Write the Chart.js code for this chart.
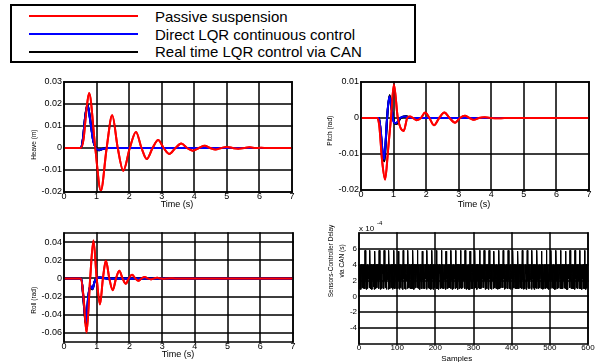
<!DOCTYPE html>
<html>
<head>
<meta charset="utf-8">
<script src="https://cdn.jsdelivr.net/npm/chart.js@4.4.1/dist/chart.umd.min.js"></script>
<style>
  body { margin: 0; background: #fff; width: 615px; height: 362px; overflow: hidden; position: relative;
         font-family: "Liberation Sans", Arial, sans-serif; }
  canvas { position: absolute; }
  #legend { position: absolute; left: 10px; top: 4px; width: 402px; height: 55px; border: 2px solid #000; }
  .swatch { position: absolute; left: 17px; width: 109px; height: 2px; }
  .lbl { position: absolute; left: 143px; font-size: 15px; line-height: 18px; white-space: nowrap; color: #000; }
</style>
</head>
<body>
<div id="legend"></div>
<canvas id="heave" width="310" height="145" style="left:0;top:70px"></canvas>
<canvas id="pitch" width="305" height="145" style="left:310px;top:70px"></canvas>
<canvas id="roll" width="310" height="147" style="left:0;top:215px"></canvas>
<canvas id="delay" width="305" height="147" style="left:310px;top:215px"></canvas>
<script>
// legend
const seriesNames = ['Passive suspension', 'Direct LQR continuous control', 'Real time LQR control via CAN'];
const seriesColors = ['#ff0000', '#0000ff', '#000000'];

// tick values
const timeTicks = [0, 1, 2, 3, 4, 5, 6, 7];
const heaveTicks = [-0.02, -0.01, 0, 0.01, 0.02, 0.03];
const pitchTicks = [-0.02, -0.01, 0, 0.01];
const rollTicks = [-0.06, -0.04, -0.02, 0, 0.02, 0.04];
const sampleTicks = [0, 100, 200, 300, 400, 500, 600];
const delayTicks = [-4, -2, 0, 2, 4, 6];

// heave (m)
const heavePassiveT = [0, 0.52, 0.6, 0.68, 0.77, 0.96, 1.13, 1.31, 1.48, 1.65, 1.82, 2.02, 2.21, 2.38, 2.54, 2.72, 2.89, 3.06, 3.23, 3.42, 3.6, 3.78, 3.95, 4.14, 4.32, 4.49, 4.65, 4.83, 5.0, 5.18, 5.35, 5.53, 5.7, 5.88, 6.05, 6.25, 7];
const heavePassive = [0, 0, 0.004, 0.016, 0.025, 0, -0.0194, 0, 0.0149, 0, -0.0103, 0, 0.0073, 0, -0.005, 0, 0.0036, 0, -0.0027, 0, 0.002, 0, -0.0012, 0, 0.001, 0, -0.0007, 0, 0.0005, 0, -0.0003, 0, 0.0003, 0, 0.0001, 0, 0];
const heaveLqrT = [0, 0.52, 0.58, 0.65, 0.72, 0.8, 0.9, 0.98, 1.08, 1.2, 1.35, 7];
const heaveDirect = [0, 0, 0.004, 0.014, 0.0195, 0.013, 0.003, 0, -0.0009, -0.0003, 0, 0];
const heaveCan = [0, 0, 0.004, 0.0142, 0.0198, 0.0135, 0.0032, 0, -0.001, -0.0003, 0, 0];

// pitch (rad)
const pitchPassiveT = [0, 0.5, 0.56, 0.65, 0.74, 0.83, 0.92, 1.01, 1.13, 1.31, 1.42, 1.5, 1.6, 1.71, 1.84, 1.97, 2.1, 2.24, 2.4, 2.56, 2.72, 2.89, 3.04, 3.19, 3.33, 3.46, 3.62, 3.8, 4.0, 4.2, 4.4, 7];
const pitchPassive = [0, 0, -0.002, -0.012, -0.0171, -0.009, 0, 0.0093, 0, -0.0036, 0, 0.0004, 0, -0.0006, 0, 0.0015, 0, -0.002, 0, 0.0015, 0, -0.0013, 0, 0.0006, 0, -0.0005, 0, 0.0002, 0, -0.0001, 0, 0];
const pitchDirectT = [0, 0.55, 0.6, 0.66, 0.71, 0.76, 0.8, 0.87, 0.95, 1.0, 1.07, 1.2, 1.35, 1.5, 7];
const pitchDirect = [0, 0, -0.003, -0.009, -0.0115, -0.006, 0, 0.006, 0.002, -0.001, -0.0015, 0, 0.0004, 0, 0];
const pitchCanT = [0, 0.55, 0.6, 0.67, 0.72, 0.77, 0.81, 0.88, 0.96, 1.02, 1.08, 1.22, 1.38, 1.55, 7];
const pitchCan = [0, 0, -0.0035, -0.0105, -0.012, -0.005, 0.001, 0.0063, 0.0015, -0.0012, -0.0017, 0, 0.0005, 0, 0];

// roll (rad)
const rollPassiveT = [0, 0.52, 0.6, 0.69, 0.8, 0.9, 1.0, 1.1, 1.19, 1.28, 1.385, 1.49, 1.59, 1.69, 1.79, 1.89, 1.98, 2.08, 2.18, 2.27, 2.37, 2.47, 2.56, 2.65, 2.75, 2.85, 2.95, 3.05, 3.15, 3.25, 3.4, 7];
const rollPassive = [0, 0, -0.022, -0.0597, 0, 0.0418, 0, -0.0286, 0, 0.0196, 0, -0.013, 0, 0.0085, 0, -0.006, 0, 0.004, 0, -0.0025, 0, 0.0015, 0, -0.001, 0, 0.0006, 0, -0.0004, 0, 0.0002, 0, 0];
const rollLqrT = [0, 0.53, 0.6, 0.67, 0.74, 0.8, 0.87, 0.93, 0.99, 1.1, 1.3, 7];
const rollDirect = [0, 0, -0.024, -0.049, -0.02, -0.008, -0.0115, -0.004, 0, 0.001, 0, 0];
const rollCan = [0, 0, -0.026, -0.051, -0.021, -0.009, -0.012, -0.004, 0, 0.001, 0, 0];

// sensors-controller delay via CAN, in units of 1e-4 s, one value per sample
const delayE4 = [
  1.0,4.0,2.2,3.9,0.9,4.0,2.8,1.1,4.0,2.0,3.9,1.0,4.0,
  4.0,1.0,5.8,2.1,4.0,0.9,3.9,2.8,1.0,4.0,2.2,3.0,
  3.9,1.1,5.8,2.0,4.0,1.0,4.0,2.9,0.9,3.9,2.1,4.0,1.2,
  4.0,0.9,5.7,2.2,3.9,1.0,4.0,3.0,1.1,4.0,2.0,2.8,
  4.0,1.0,5.8,2.1,3.9,0.9,4.0,2.2,1.0,4.0,2.9,3.9,1.1,
  3.9,1.0,5.8,2.0,4.0,1.1,3.9,2.9,0.9,4.0,2.1,3.1,
  4.0,0.9,5.8,2.2,4.0,1.0,3.9,2.8,1.1,4.0,2.0,4.0,0.9,
  4.0,1.1,5.8,2.1,3.9,1.0,4.0,2.9,1.0,3.9,2.2,3.0,
  3.9,1.0,5.7,2.0,4.0,0.9,4.0,2.8,1.1,4.0,2.1,3.9,1.0,
  4.0,0.9,5.8,2.2,4.0,1.0,3.9,3.0,0.9,4.0,2.0,2.9,
  4.0,1.0,5.8,2.1,3.9,1.1,4.0,2.2,1.0,3.9,2.8,4.0,1.0,
  3.9,1.0,5.8,2.0,4.0,0.9,4.0,2.9,1.1,4.0,2.1,3.0,
  4.0,1.1,5.8,2.2,3.9,1.0,4.0,2.8,0.9,4.0,2.0,3.9,1.1,
  4.0,1.0,5.7,2.1,4.0,1.0,3.9,3.0,1.0,4.0,2.2,2.8,
  3.9,0.9,5.8,2.0,4.0,1.1,4.0,2.9,1.0,3.9,2.1,4.0,0.9,
  4.0,1.0,5.8,2.2,3.9,0.9,4.0,2.8,1.1,4.0,2.0,3.1,
  4.0,1.0,5.8,2.1,4.0,1.0,3.9,2.2,0.9,4.0,2.9,3.9,1.0,
  3.9,1.1,5.8,2.0,4.0,1.0,4.0,2.9,1.0,3.9,2.1,3.0,
  4.0,0.9,5.7,2.2,3.9,1.0,4.0,2.8,1.1,4.0,2.0,4.0,1.1,
  4.0,1.0,5.8,2.1,4.0,0.9,3.9,3.0,1.0,4.0,2.2,2.9,
  3.9,1.0,5.8,2.0,4.0,1.1,4.0,2.8,0.9,4.0,2.1,3.9,1.0,
  4.0,1.1,5.8,2.2,3.9,1.0,4.0,2.9,1.1,4.0,2.0,3.0,
  4.0,1.0,5.8,2.1,4.0,0.9,3.9,2.2,1.0,3.9,2.8,4.0,0.9,
  3.9,0.9,5.7,2.0,4.0,1.0,4.0,3.0,1.0,4.0,2.1,2.8,
  4.0,1.0,5.8,2.2,3.9,1.1,4.0,2.9,0.9,4.0,2.0,3.9,1.1,
  4.0,1.0,5.8,2.1,4.0,1.0,3.9,2.8,1.1,3.9,2.2,3.1,
  3.9,1.1,5.8,2.0,4.0,0.9,4.0,2.9,1.0,4.0,2.1,4.0,1.0,
  4.0,0.9,5.8,2.2,3.9,1.0,4.0,3.0,0.9,4.0,2.0,2.9,
  4.0,1.0,5.7,2.1,4.0,1.1,3.9,2.2,1.0,4.0,2.8,3.9,0.9,
  3.9,1.0,5.8,2.0,4.0,1.0,4.0,2.9,1.1,4.0,2.1,3.0,
  4.0,1.1,5.8,2.2,3.9,0.9,4.0,2.8,1.0,3.9,2.0,4.0,1.1,
  4.0,1.0,5.8,2.1,4.0,1.0,3.9,3.0,0.9,4.0,2.2,2.8,
  3.9,0.9,5.8,2.0,4.0,1.1,4.0,2.9,1.0,4.0,2.1,3.9,1.0,
  4.0,1.0,5.7,2.2,3.9,1.0,4.0,2.8,1.1,4.0,2.0,3.1,
  4.0,1.0,5.8,2.1,4.0,0.9,3.9,2.2,1.0,3.9,2.9,4.0,0.9,
  3.9,1.1,5.8,2.0,4.0,1.0,4.0,2.9,1.0,4.0,2.1,3.0,
  4.0,0.9,5.8,2.2,3.9,1.1,4.0,2.8,0.9,4.0,2.0,3.9,1.1,
  4.0,1.0,5.8,2.1,4.0,1.0,3.9,3.0,1.1,4.0,2.2,2.9,
  3.9,1.0,5.7,2.0,4.0,0.9,4.0,2.9,1.0,3.9,2.1,4.0,1.0,
  4.0,1.1,5.8,2.2,3.9,1.0,4.0,2.8,0.9,4.0,2.0,3.0,
  4.0,1.0,5.8,2.1,4.0,1.1,3.9,2.2,1.0,4.0,2.8,3.9,0.9,
  3.9,0.9,5.8,2.0,4.0,1.0,4.0,2.9,1.1,4.0,2.1,3.1,
  4.0,1.0,5.8,2.2,3.9,1.0,4.0,2.8,1.0,3.9,2.0,4.0,1.1,
  4.0,1.0,5.7,2.1,4.0,0.9,3.9,3.0,0.9,4.0,2.2,2.8,
  3.9,1.1,5.8,2.0,4.0,1.0,4.0,2.9,1.0,4.0,2.1,3.9,1.0,
  4.0,0.9,5.8,2.2,3.9,1.1,4.0,2.8,1.0,4.0,2.0,3.0,
  4.0,1.0,5.8,2.1,4.0,1.0,3.9,2.9,0.9,3.9,2.2,4.0,1.0,
  3.9,1.0,5.8,2.0,4.0,0.9,4.0,2.8,1.1,4.0,2.1,3.9
];

const FONT = '"Liberation Sans", Arial, sans-serif';
Chart.defaults.font.family = FONT;
Chart.defaults.color = '#000';

// legend box (html)
const legend = document.getElementById('legend');
seriesNames.forEach((name, i) => {
  const sw = document.createElement('div');
  sw.className = 'swatch';
  sw.style.top = (9 + i * 17.75) + 'px';
  sw.style.background = seriesColors[i];
  legend.appendChild(sw);
  const lb = document.createElement('div');
  lb.className = 'lbl';
  lb.style.top = (2 + i * 17.5) + 'px';
  lb.textContent = name;
  legend.appendChild(lb);
});

// tick arrays per chart for the grid
const gridTicks = {};

// painted at the very end: grid, the data lines again over it, then box and labels
const axesFrame = {
  id: 'axesFrame',
  afterDraw(chart, args, o) {
    const {ctx, chartArea: a, scales} = chart;
    const g = gridTicks[chart.canvas.id];
    const top = Math.round(a.top), bottom = Math.round(a.bottom);
    const left = Math.round(a.left), right = Math.round(a.right);
    ctx.save();
    ctx.strokeStyle = '#000';
    ctx.lineWidth = 1.5;
    g.x.forEach(v => {
      const px = Math.round(scales.x.getPixelForValue(v));
      ctx.strokeRect(px, top, 0.01, bottom - top);
    });
    g.y.forEach(v => {
      const py = Math.round(scales.y.getPixelForValue(v));
      ctx.strokeRect(left, py, right - left, 0.01);
    });
    ctx.restore();

    // data lines back over the grid (red last, so it stays on top)
    const metas = chart.getSortedVisibleDatasetMetas();
    ctx.save();
    ctx.beginPath();
    ctx.rect(a.left, a.top, a.width, a.height);
    ctx.clip();
    for (let i = metas.length - 1; i >= 0; i--) {
      if (metas[i].dataset) metas[i].dataset.draw(ctx, a);
    }
    ctx.restore();

    ctx.save();
    ctx.strokeStyle = '#000';
    ctx.lineWidth = 1.5;
    ctx.strokeRect(left, top, right - left, bottom - top);
    ctx.fillStyle = '#000';
    ctx.textAlign = 'center';
    ctx.textBaseline = 'middle';
    ctx.font = o.xSize + 'px ' + FONT;
    ctx.fillText(o.xTitle, o.xAt[0], o.xAt[1]);
    ctx.font = o.ySize + 'px ' + FONT;
    o.yTitle.forEach((txt, i) => {
      ctx.save();
      ctx.translate(o.yAt[0] + i * o.yGap, o.yAt[1]);
      ctx.rotate(-Math.PI / 2);
      ctx.fillText(txt, 0, 0);
      ctx.restore();
    });
    if (o.exponent) {
      ctx.textAlign = 'left';
      ctx.textBaseline = 'alphabetic';
      ctx.font = '8px ' + FONT;
      ctx.fillText('x 10', a.left, a.top - 2);
      ctx.font = '6px ' + FONT;
      ctx.fillText(o.exponent, a.left + 18, a.top - 8);
    }
    ctx.restore();
  }
};

const fmt2 = v => String(+v.toFixed(2));
const fmt0 = v => String(v);

function axis(min, max, ticks, fmt, size, pad, fit) {
  return {
    type: 'linear', min: min, max: max,
    afterBuildTicks: s => { s.ticks = ticks.map(v => ({value: v})); },
    afterFit: fit,
    grid: {display: false, drawTicks: false},
    border: {display: false},
    ticks: {autoSkip: false, maxRotation: 0, padding: pad, font: {size: size}, callback: fmt}
  };
}

function series(xs, ys, color, width, order) {
  return {
    data: xs.map((x, i) => ({x: x, y: ys[i]})),
    borderColor: color, borderWidth: width, order: order,
    pointRadius: 0, showLine: true, fill: false,
    cubicInterpolationMode: 'monotone'
  };
}

function plot(id, area, x, y, datasets, frame) {
  const cv = document.getElementById(id);
  gridTicks[id] = {x: x.ticks.slice(), y: y.ticks.slice()};
  return new Chart(cv, {
    type: 'scatter',
    data: {datasets: datasets},
    options: {
      responsive: false, animation: false, devicePixelRatio: 1,
      layout: {padding: {left: 0, top: area[1], right: cv.width - area[2], bottom: 0}},
      plugins: {legend: {display: false}, tooltip: {enabled: false}, axesFrame: frame},
      scales: {
        x: axis(x.min, x.max, x.ticks, x.fmt, x.size, -1, s => { s.height = cv.height - area[3]; }),
        y: axis(y.min, y.max, y.ticks, y.fmt, y.size, 2, s => { s.width = area[0]; })
      }
    },
    plugins: [axesFrame]
  });
}

const [RED, BLUE, BLACK] = seriesColors;

plot('heave', [64, 12, 292, 122],
  {min: 0, max: 7, ticks: timeTicks, fmt: fmt0, size: 9},
  {min: -0.02, max: 0.03, ticks: heaveTicks, fmt: fmt2, size: 9},
  [series(heavePassiveT, heavePassive, RED, 2, 1),
   series(heaveLqrT, heaveDirect, BLUE, 2, 2),
   series(heaveLqrT, heaveCan, BLACK, 2, 3)],
  {xTitle: 'Time (s)', xSize: 9, xAt: [177, 135], yTitle: ['Heave (m)'], ySize: 6.5, yAt: [34.3, 74.7], yGap: 0});

plot('pitch', [51, 12, 279, 120],
  {min: 0, max: 7, ticks: timeTicks, fmt: fmt0, size: 9},
  {min: -0.02, max: 0.01, ticks: pitchTicks, fmt: fmt2, size: 9},
  [series(pitchPassiveT, pitchPassive, RED, 2, 1),
   series(pitchDirectT, pitchDirect, BLUE, 2, 2),
   series(pitchCanT, pitchCan, BLACK, 2, 3)],
  {xTitle: 'Time (s)', xSize: 9, xAt: [164, 135], yTitle: ['Pitch (rad)'], ySize: 6.5, yAt: [20.7, 60.8], yGap: 0});

plot('roll', [64, 18, 293, 127],
  {min: 0, max: 7, ticks: timeTicks, fmt: fmt0, size: 9},
  {min: -0.07, max: 0.05, ticks: rollTicks, fmt: fmt2, size: 9},
  [series(rollPassiveT, rollPassive, RED, 2, 1),
   series(rollLqrT, rollDirect, BLUE, 2, 2),
   series(rollLqrT, rollCan, BLACK, 2, 3)],
  {xTitle: 'Time (s)', xSize: 9, xAt: [178, 140], yTitle: ['Roll (rad)'], ySize: 6.5, yAt: [34.3, 85.3], yGap: 0});

const delaySeries = series(delayE4.map((v, i) => i + 1), delayE4, BLACK, 1, 1);
delaySeries.cubicInterpolationMode = 'default';
delaySeries.tension = 0;
plot('delay', [49, 18, 278, 129],
  {min: 0, max: 600, ticks: sampleTicks, fmt: fmt0, size: 8},
  {min: -6, max: 8, ticks: delayTicks, fmt: fmt0, size: 8},
  [delaySeries],
  {xTitle: 'Samples', xSize: 8, xAt: [146.7, 144], yTitle: ['Sensors-Controller Delay', 'via CAN (s)'], ySize: 6.5, yAt: [21.2, 46], yGap: 10.8, exponent: '-4'});
</script>
</body>
</html>
